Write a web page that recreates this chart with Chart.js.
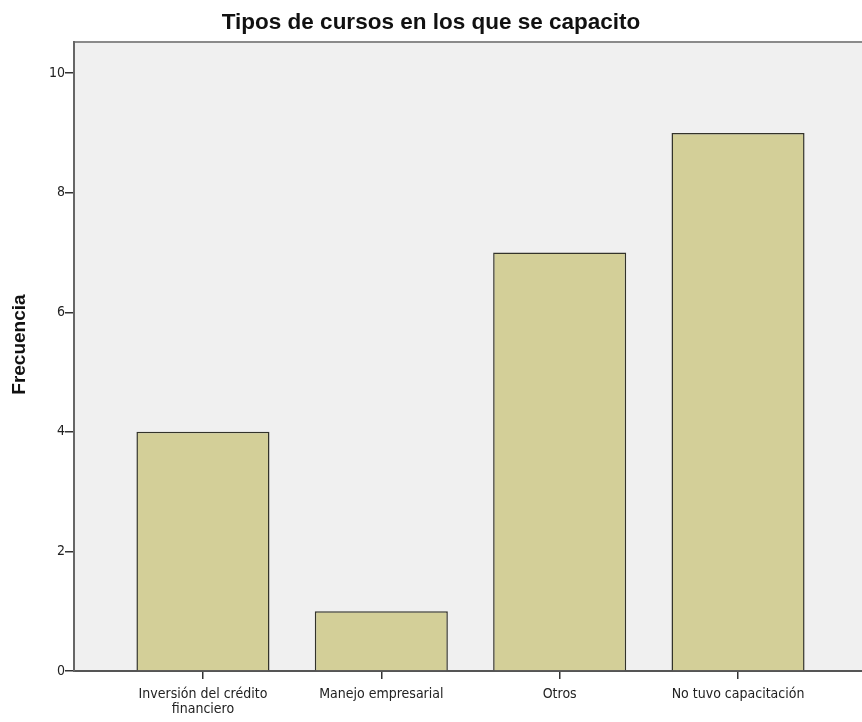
<!DOCTYPE html>
<html>
<head>
<meta charset="utf-8">
<script src="https://cdn.jsdelivr.net/npm/chart.js@4.4.0/dist/chart.umd.min.js"></script>
<style>
  html, body { margin: 0; padding: 0; background: #fff; overflow: hidden; }
  #wrap { width: 862px; height: 722px; }
</style>
</head>
<body>
<div id="wrap"><canvas id="grafico"></canvas></div>
<script>
// datos
const categorias = [['Inversión del crédito', 'financiero'], 'Manejo empresarial', 'Otros', 'No tuvo capacitación'];
const frecuencias = [4, 1, 7, 9];
const ticksY = [0, 2, 4, 6, 8, 10];

const fuenteTicks = "'DejaVu Sans Condensed', 'Liberation Sans', sans-serif";

// fondo gris del área de trazado + borde superior + título del eje Y
const fondoArea = {
    id: 'fondoArea',
    beforeDraw(chart) {
        const { ctx, chartArea: a } = chart;
        ctx.save();
        ctx.fillStyle = '#f0f0f0';
        ctx.fillRect(a.left, a.top, a.right - a.left, a.bottom - a.top);
        ctx.strokeStyle = '#8a8a8a';
        ctx.lineWidth = 2;
        ctx.beginPath();
        ctx.moveTo(a.left, a.top);
        ctx.lineTo(a.right, a.top);
        ctx.stroke();
        ctx.restore();
    },
    afterDraw(chart) {
        const { ctx, chartArea: a } = chart;
        ctx.save();
        ctx.translate(20, a.top + (a.bottom - a.top) * 0.481);
        ctx.rotate(-Math.PI / 2);
        ctx.fillStyle = '#111';
        ctx.font = 'bold 19px "Liberation Sans"';
        ctx.textAlign = 'center';
        ctx.textBaseline = 'middle';
        ctx.fillText('Frecuencia', 0, 0);
        ctx.restore();
    }
};

const ctx = document.getElementById('grafico');
new Chart(ctx, {
    type: 'bar',
    data: {
        datasets: [{
            data: frecuencias.map((v, i) => ({ x: i, y: v })),
            backgroundColor: '#d3cf98',
            borderColor: '#33332a',
            borderWidth: 1.5,
            barPercentage: 0.746,
            categoryPercentage: 1
        }]
    },
    options: {
        responsive: true,
        maintainAspectRatio: false,
        animation: false,
        layout: { padding: 0 },
        plugins: {
            legend: { display: false },
            tooltip: { enabled: false },
            title: {
                display: true,
                text: 'Tipos de cursos en los que se capacito',
                color: '#111',
                font: { family: 'Liberation Sans', size: 22.5, weight: 'bold' },
                padding: { top: 9, bottom: 6 }
            }
        },
        scales: {
            x: {
                type: 'linear',
                offset: false,
                min: -0.723,
                max: 3.695,
                afterBuildTicks: (s) => { s.ticks = categorias.map((c, i) => ({ value: i })); },
                afterFit: (s) => { s.height = 51; },
                ticks: {
                    color: '#222',
                    font: { family: fuenteTicks, size: 14, lineHeight: 1.07 },
                    padding: 8,
                    maxRotation: 0,
                    autoSkip: false,
                    callback: (v) => categorias[v]
                },
                grid: { offset: false, drawOnChartArea: false, drawTicks: true, tickLength: 8, color: '#333', lineWidth: 1.5 },
                border: { display: true, color: '#555', width: 2 }
            },
            y: {
                min: 0,
                max: 10.52,
                afterBuildTicks: (s) => { s.ticks = ticksY.map(v => ({ value: v })); },
                afterFit: (s) => { s.width = 74; },
                ticks: {
                    color: '#222',
                    font: { family: fuenteTicks, size: 14 },
                    padding: 0
                },
                grid: { drawOnChartArea: false, drawTicks: true, tickLength: 9, color: '#333', lineWidth: 1.5 },
                border: { display: true, color: '#666', width: 2 }
            }
        }
    },
    plugins: [fondoArea]
});
</script>
</body>
</html>
